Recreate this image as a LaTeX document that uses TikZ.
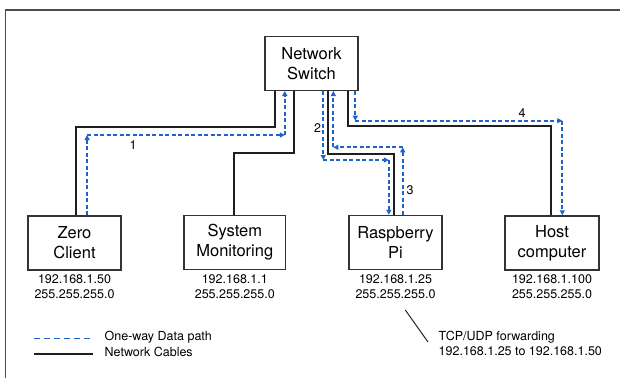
\documentclass[tikz,border=0pt]{standalone}
\usepackage{fontspec}
\setmainfont{TeX Gyre Heros}
\usetikzlibrary{arrows.meta,decorations.pathreplacing}
\definecolor{dblue}{HTML}{1F62C8}
\definecolor{boxgray}{HTML}{333333}
\tikzset{
  box/.style={draw=boxgray,line width=1.4pt,minimum width=93pt,minimum height=54pt,inner sep=0pt,align=center,font=\fontsize{16.5}{20}\selectfont},
  iplabel/.style={anchor=north,inner sep=0pt,align=center,font=\fontsize{12.5}{15}\selectfont},
  txt/.style={inner sep=0pt,font=\fontsize{12.5}{15}\selectfont},
  cable/.style={line width=2pt,draw=black!88},
  dseg/.style={draw=dblue,line width=1.7pt,dash pattern=on 4pt off 2.5pt,-{Triangle[length=5pt,width=5pt]}},
  datapath/.style={decorate,decoration={show path construction,
     lineto code={\draw[dseg] (\tikzinputsegmentfirst) -- (\tikzinputsegmentlast);}}}
}
\begin{document}
\begin{tikzpicture}[x=1pt,y=-1pt]
\useasboundingbox (0,0) rectangle (620,378);
% frame
\draw[black!70,line width=1.2pt] (5.5,378) -- (5.5,10) -- (620,10);
% nodes
\node[box] (sw) at (311.5,63.3) {Network\\Switch};
\node[box] (zc) at (74.5,243) {Zero\\Client};
\node[box,minimum width=101.5pt] (sm) at (234.8,242.5) {System\\Monitoring};
\node[box] (rp) at (395.5,242.5) {Raspberry\\Pi};
\node[box,minimum width=94pt] (hc) at (552,243) {Host\\computer};
\node[iplabel] (zcip) at (74.5,274.5) {192.168.1.50\\255.255.255.0};
\node[iplabel] (smip) at (234.8,274.5) {192.168.1.1\\255.255.255.0};
\node[iplabel] (rpip) at (395.5,274.5) {192.168.1.25\\255.255.255.0};
\node[iplabel] (hcip) at (552,274.5) {192.168.1.100\\255.255.255.0};
% level coordinates
\coordinate (yz) at (0,126.7);
\coordinate (ys) at (0,152.7);
\coordinate (yr) at (0,154);
\coordinate (yh) at (0,126);
\coordinate (y1) at (0,135);
\coordinate (y2) at (0,160);
\coordinate (y3) at (0,147.3);
\coordinate (y4) at (0,120.7);
% ports
\coordinate (swz) at ([xshift=10.6pt]sw.south west);
\coordinate (sw1) at ([xshift=20.5pt]sw.south west);
\coordinate (sws) at ([xshift=29.5pt]sw.south west);
\coordinate (sw2) at ([xshift=59pt]sw.south west);
\coordinate (swr) at ([xshift=64pt]sw.south west);
\coordinate (sw3) at ([xshift=69pt]sw.south west);
\coordinate (swh) at ([xshift=83.7pt]sw.south west);
\coordinate (sw4) at ([xshift=91pt]sw.south west);
\coordinate (zcc) at ([xshift=48.6pt]zc.north west);
\coordinate (zc1) at ([xshift=59.8pt]zc.north west);
\coordinate (smc) at ([xshift=51pt]sm.north west);
\coordinate (rp2) at ([xshift=40.5pt]rp.north west);
\coordinate (rpc) at ([xshift=46pt]rp.north west);
\coordinate (rp3) at ([xshift=54.4pt]rp.north west);
\coordinate (hcc) at ([xshift=47pt]hc.north west);
\coordinate (hc4) at ([xshift=58pt]hc.north west);
% cables
\draw[cable] (swz) -- (swz |- yz) -- (zcc |- yz) -- (zcc);
\draw[cable] (sws) -- (sws |- ys) -- (smc |- ys) -- (smc);
\draw[cable] (swr) -- (swr |- yr) -- (rpc |- yr) -- (rpc);
\draw[cable] (swh) -- (swh |- yh) -- (hcc |- yh) -- (hcc);
% data paths
\path[datapath] (zc1) -- (zc1 |- y1) -- (sw1 |- y1) -- (sw1);
\path[datapath] (sw2) -- (sw2 |- y2) -- (rp2 |- y2) -- (rp2);
\path[datapath] (rp3) -- (rp3 |- y3) -- (sw3 |- y3) -- (sw3);
\path[datapath] (sw4) -- (sw4 |- y4) -- (hc4 |- y4) -- (hc4);
% path labels
\node[txt] (l1) at (133,145) {1};
\node[txt] (l2) at (317.5,128.3) {2};
\node[txt] (l3) at (410,190) {3};
\node[txt] (l4) at (522,112.7) {4};
% forwarding note
\coordinate (fa) at (405.3,310);
\coordinate (fb) at (428,342);
\draw[black!85,line width=1pt] (fa) -- (fb);
\node[txt,anchor=west,align=left] (fwd) at (438.5,343) {TCP/UDP forwarding\\192.168.1.25 to 192.168.1.50};
% legend
\coordinate (la) at (34,338.3);
\coordinate (lb) at (93,338.3);
\coordinate (lc) at (34,354);
\coordinate (ld) at (93,354);
\draw[draw=dblue,line width=1.5pt,dash pattern=on 6pt off 4pt] (la) -- (lb);
\draw[cable] (lc) -- (ld);
\node[txt,anchor=west] (lt1) at (104.5,337) {One-way Data path};
\node[txt,anchor=west] (lt2) at (104.5,352) {Network Cables};
\end{tikzpicture}
\end{document}
